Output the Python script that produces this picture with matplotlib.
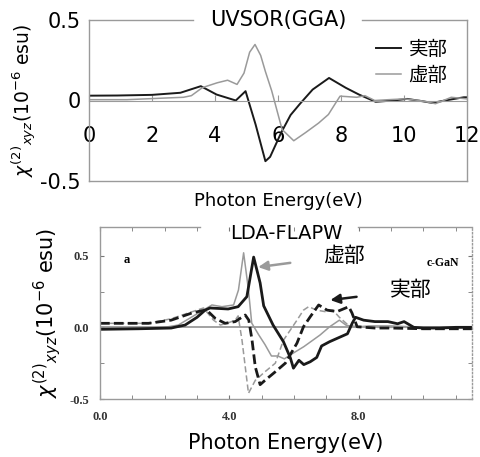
import matplotlib
matplotlib.use("Agg")
import matplotlib.pyplot as plt
from matplotlib.ticker import MultipleLocator

plt.rcParams['font.family'] = ['DejaVu Sans', 'Noto Sans CJK JP']

# ---------------- top panel (UVSOR GGA) ----------------
top_real_x = [0, 0.9, 2.0, 2.9, 3.55, 4.05, 4.66, 4.97, 5.29, 5.6, 5.75, 6.1, 6.4, 6.7, 7.1,
              7.62, 8.15, 8.57, 9.1, 9.66, 10.1, 10.6, 10.9, 11.3, 11.9, 12.0]
top_real_y = [0.03, 0.031, 0.035, 0.048, 0.089, 0.037, 0.0, 0.058, -0.15, -0.377, -0.35, -0.2,
              -0.09, -0.02, 0.068, 0.14, 0.079, 0.037, -0.008, 0.0, 0.01, -0.005, -0.015, 0.0, 0.02, 0.02]

top_imag_x = [0, 1.2, 2.5, 3.0, 3.25, 3.6, 4.07, 4.4, 4.7, 4.92, 5.1, 5.27, 5.45, 5.6, 5.8,
              6.13, 6.5, 6.87, 7.29, 7.6, 7.8, 7.97, 8.5, 8.76, 9.07, 9.5, 10.0, 10.5, 11.0, 11.5, 12.0]
top_imag_y = [0.005, 0.005, 0.016, 0.02, 0.03, 0.08, 0.11, 0.126, 0.10, 0.17, 0.30, 0.348, 0.28,
              0.18, 0.06, -0.18, -0.25, -0.20, -0.14, -0.087, -0.025, 0.027, 0.02, 0.03, 0.0,
              0.005, 0.01, 0.0, -0.02, 0.02, 0.01]

top_xticks = [0, 2, 4, 6, 8, 10, 12]
top_yticks = [-0.5, 0, 0.5]
top_ytick_labels = ['-0.5', '0', '0.5']
legend_labels = ['実部', '虚部']

# ---------------- bottom panel (LDA-FLAPW) ----------------
s1_x = [0, 1.2, 2.2, 2.63, 3.0, 3.25, 3.4, 3.96, 4.27, 4.54, 4.75, 4.95, 5.06, 5.35, 5.67, 5.88,
        5.98, 6.15, 6.3, 6.5, 6.7, 6.85, 7.1, 7.4, 7.65, 7.8, 7.9, 8.15, 8.5, 8.9, 9.2, 9.4,
        9.7, 10.0, 10.5, 11.0, 11.5]
s1_y = [-0.014, -0.01, -0.005, 0.016, 0.07, 0.12, 0.135, 0.128, 0.144, 0.214, 0.49, 0.31, 0.15,
        0.016, -0.1, -0.21, -0.285, -0.23, -0.26, -0.24, -0.21, -0.13, -0.1, -0.07, -0.045,
        0.03, 0.07, 0.05, 0.04, 0.04, 0.025, 0.04, 0.0, -0.005, -0.005, 0.0, 0.0]

s2_x = [0, 1.5, 2.0, 2.42, 2.94, 3.46, 3.77, 4.13, 4.28, 4.44, 4.59, 4.69, 4.9, 5.1, 5.3, 5.5,
        5.7, 5.9, 6.3, 6.8, 7.1, 7.4, 7.6, 7.9, 8.3, 9.0, 10.0, 11.5]
s2_y = [-0.005, -0.005, 0.0, 0.016, 0.086, 0.156, 0.144, 0.156, 0.26, 0.52, 0.26, 0.03, -0.05,
        -0.12, -0.2, -0.2, -0.22, -0.19, -0.135, -0.054, 0.004, 0.05, 0.016, 0.0, 0.01, 0.01, 0.0, 0.0]

d1_x = [0, 1.5, 2.2, 2.84, 3.15, 3.3, 3.56, 3.87, 4.18, 4.49, 4.6, 4.7, 4.8, 4.95, 5.1, 5.42,
        5.73, 6.09, 6.29, 6.5, 6.76, 7.02, 7.33, 7.69, 7.79, 7.95, 8.5, 9.0, 10.0, 11.5]
d1_y = [0.028, 0.028, 0.05, 0.1, 0.116, 0.12, 0.063, 0.028, 0.04, 0.086, 0.05, -0.089, -0.275,
        -0.40, -0.37, -0.31, -0.25, -0.11, 0.004, 0.074, 0.156, 0.12, 0.11, 0.144, 0.10, 0.004,
        -0.005, -0.005, -0.01, -0.01]

d2_x = [0, 1.5, 2.2, 2.73, 3.2, 3.51, 3.72, 3.95, 4.18, 4.27, 4.39, 4.49, 4.59, 4.8, 5.1, 5.42,
        5.67, 5.88, 6.09, 6.29, 6.45, 6.7, 6.95, 7.2, 7.4, 7.7, 8.5, 10.0, 11.5]
d2_y = [0.028, 0.028, 0.06, 0.1, 0.135, 0.05, 0.016, 0.03, 0.05, 0.08, -0.09, -0.275, -0.46,
        -0.37, -0.31, -0.25, -0.09, -0.02, 0.05, 0.12, 0.144, 0.12, 0.11, 0.12, 0.07, 0.01, 0.0,
        0.0, 0.0]

bot_xticks = [0, 4, 8]
bot_xtick_labels = ['0.0', '4.0', '8.0']
bot_yticks = [-0.5, 0, 0.5]
bot_ytick_labels = ['-0.5', '0.0', '0.5']

W, H = 481, 457
fig = plt.figure(figsize=(W / 100, H / 100), dpi=100)

GREY = '#9a9a9a'
BLACK = '#1a1a1a'
CJK = ['Noto Sans CJK JP', 'DejaVu Sans']
YLABEL = r'$\chi^{(2)}{}_{xyz}$(10$^{-6}$ esu)'


def broken_top(ax, gap_lo, gap_hi, color, ls='-'):
    ax.spines['top'].set_visible(False)
    for a, b in [(0, gap_lo), (gap_hi, 1)]:
        ax.plot([a, b], [1, 1], transform=ax.transAxes, color=color, lw=1.0,
                ls=ls, clip_on=False, zorder=5)


# ---------- top axes ----------
ax1 = fig.add_axes([89 / W, 1 - 181 / H, 378 / W, 161 / H])
ax1.set_xlim(0, 12)
ax1.set_ylim(-0.5, 0.5)
ax1.plot(top_real_x, top_real_y, color=BLACK, lw=1.4, label=legend_labels[0])
ax1.plot(top_imag_x, top_imag_y, color=GREY, lw=1.1, label=legend_labels[1])
for s in ['left', 'right']:
    ax1.spines[s].set_color(GREY)
    ax1.spines[s].set_linewidth(1.0)
broken_top(ax1, 0.275, 0.722, GREY)
ax1.spines['bottom'].set_position(('data', 0))
ax1.spines['bottom'].set_color(GREY)
ax1.plot([0, 1], [0, 0], transform=ax1.transAxes, color=GREY, lw=1.0, clip_on=False)
ax1.set_xticks(top_xticks)
ax1.set_xticklabels([str(t) for t in top_xticks])
ax1.tick_params(axis='x', direction='in', length=4, color=GREY, pad=18, labelsize=15)
ax1.set_yticks(top_yticks)
ax1.set_yticklabels(top_ytick_labels)
ax1.tick_params(axis='y', length=0, pad=6, labelsize=15)
ax1.set_xlabel('Photon Energy(eV)', fontsize=13)
ax1.xaxis.set_label_coords(0.5, -0.07)
ax1.set_ylabel(YLABEL, fontsize=13.5)
ax1.yaxis.set_label_coords(-0.135, 0.5)
ax1.text(0.5, 1.0, 'UVSOR(GGA)', transform=ax1.transAxes, ha='center', va='center',
         fontsize=15, zorder=10, clip_on=False)
ax1.legend(loc='upper right', frameon=False, prop={'family': CJK, 'size': 14},
           handlelength=1.3, handletextpad=0.4, labelspacing=0.25,
           bbox_to_anchor=(0.995, 0.99))

# ---------- bottom axes ----------
ax2 = fig.add_axes([100 / W, 1 - 399 / H, 372 / W, 172 / H])
ax2.set_xlim(0, 11.5)
ax2.set_ylim(-0.5, 0.70)
ax2.axhline(0, color=GREY, lw=1.3, zorder=1)
ax2.plot(s2_x, s2_y, color=GREY, lw=1.1)
ax2.plot(d2_x, d2_y, color=GREY, lw=1.1, ls=(0, (4, 2)))
ax2.plot(d1_x, d1_y, color=BLACK, lw=2.0, ls=(0, (3.5, 1.5)))
ax2.plot(s1_x, s1_y, color=BLACK, lw=2.0)
for s in ['left', 'right', 'bottom']:
    ax2.spines[s].set_color(GREY)
    ax2.spines[s].set_linewidth(1.0)
ax2.spines['right'].set_linestyle(':')
broken_top(ax2, 0.269, 0.694, GREY)
ax2.set_xticks(bot_xticks)
ax2.set_xticklabels(bot_xtick_labels)
ax2.xaxis.set_minor_locator(MultipleLocator(1))
ax2.set_yticks(bot_yticks)
ax2.set_yticklabels(bot_ytick_labels)
ax2.yaxis.set_minor_locator(MultipleLocator(0.25))
ax2.tick_params(which='both', direction='in', top=True, right=True, color='#777777', length=3)
for lab in ax2.get_xticklabels() + ax2.get_yticklabels():
    lab.set_fontfamily('Liberation Serif')
    lab.set_fontweight('bold')
    lab.set_fontsize(9)
    lab.set_color('#333333')
ax2.tick_params(axis='x', pad=9)
ax2.tick_params(axis='y', pad=8)
ax2.set_xlabel('Photon Energy(eV)', fontsize=15)
ax2.xaxis.set_label_coords(0.5, -0.2)
ax2.set_ylabel(YLABEL, fontsize=15)
ax2.yaxis.set_label_coords(-0.1, 0.5)
ax2.text(0.5, 0.965, 'LDA-FLAPW', transform=ax2.transAxes, ha='center', va='center',
         fontsize=14, zorder=10, clip_on=False)
ax2.text(0.84, 0.47, 'a', family='Liberation Serif', weight='bold', ha='center', va='center',
         fontsize=9)
ax2.text(11.1, 0.45, 'c-GaN', family='Liberation Serif', weight='bold', ha='right',
         va='center', fontsize=8.5)
ax2.annotate('虚部', xy=(4.89, 0.42), xytext=(7.55, 0.50), ha='center', va='center',
             fontsize=15, family=CJK,
             arrowprops=dict(arrowstyle='-|>', color=GREY, lw=1.8, mutation_scale=14,
                             shrinkA=22, shrinkB=0))
ax2.annotate('実部', xy=(7.12, 0.19), xytext=(9.6, 0.26), ha='center', va='center',
             fontsize=15, family=CJK,
             arrowprops=dict(arrowstyle='-|>', color=BLACK, lw=1.8, mutation_scale=14,
                             shrinkA=22, shrinkB=0))

fig.savefig('out.png', dpi=100)
